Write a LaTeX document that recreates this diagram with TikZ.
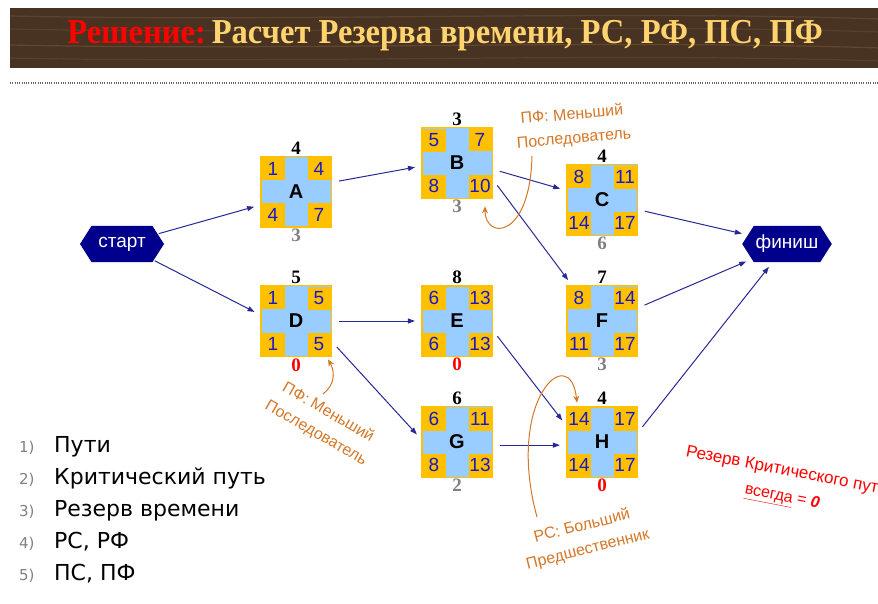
\documentclass[tikz,border=0pt]{standalone}
\usepackage{fontspec}
\setmainfont{Liberation Sans}
\newfontfamily\titlefont{Liberation Serif}
\newfontfamily\bannerfont{Liberation Serif}[FakeStretch=0.93]
\newfontfamily\listfont{DejaVu Sans}
\usetikzlibrary{positioning,matrix,shapes.symbols,arrows.meta,calc}

\definecolor{cellgold}{RGB}{255,192,0}
\definecolor{crossblue}{RGB}{153,204,255}
\definecolor{numblue}{RGB}{25,25,200}
\definecolor{linknavy}{RGB}{40,40,150}
\definecolor{hexnavy}{RGB}{0,0,140}
\definecolor{noteorange}{RGB}{212,120,40}
\definecolor{wood}{RGB}{72,50,34}
\definecolor{woodlight}{RGB}{150,120,85}
\definecolor{titlegold}{RGB}{255,212,110}

\begin{document}
\begin{tikzpicture}[x=1pt, y=-1pt, %
        task/.style={matrix of nodes, ampersand replacement=\&,
          row sep=0pt, column sep=0pt, fill=crossblue, draw=cellgold,
          line width=1.6pt, inner sep=0.8pt,
          nodes={minimum size=23pt, inner sep=0pt, text=numblue,
            font=\fontsize{19}{19}\selectfont}},
        cor/.style={fill=cellgold},
        ltr/.style={text=black, font=\fontsize{20}{20}\selectfont\bfseries},
        dur/.style={inner sep=1pt, font=\titlefont\bfseries\fontsize{19}{19}\selectfont},
        slk/.style={dur, text=gray},
        hex/.style={signal, signal to=east and west, signal pointer angle=115,
          fill=hexnavy, text=white, font=\fontsize{19}{19}\selectfont,
          minimum height=36pt, minimum width=84pt, inner sep=2pt},
        link/.style={draw=linknavy, line width=1pt, -{Triangle[length=7pt,width=5pt]},
          shorten >=6pt, shorten <=7pt},
        note/.style={text=noteorange, font=\fontsize{16}{24}\selectfont, align=center, inner sep=1pt},
        noteline/.style={draw=noteorange, line width=1pt, -{Stealth[length=7pt,width=6pt]}},
        grain/.style={draw=woodlight, line width=1.2pt},
        dotline/.style={draw=gray!80!black, line width=2pt, dash pattern=on 1pt off 1.3pt},
        listnum/.style={inner sep=0pt, text=gray, font=\listfont\fontsize{15}{15}\selectfont},
        listitem/.style={inner sep=0pt, font=\listfont\fontsize{22}{22}\selectfont}
        ]
        \useasboundingbox (0,0) rectangle (878,604);

        % banner
        \fill[wood] (10,8) rectangle (880,68);
        \foreach \yy/\op in {16/0.25, 29/0.2, 45/0.3, 58/0.2}
          \draw[grain, opacity=\op] (10,\yy) .. controls (300,\yy+6) and (600,\yy-6) .. (880,\yy+3);
        \node[anchor=base, text=titlegold, font=\bannerfont\bfseries\fontsize{35}{35}\selectfont] (title) at (445,44)
          {\textcolor{red}{Решение:}\,Расчет Резерва времени, РС, РФ, ПС, ПФ};
        \draw[dotline] (10,83) -- (878,83);

        % start / finish
        \node[hex] (start) at (122,244) {старт};
        \node[hex] (finish) at (787,244) {финиш};

        % tasks
        \matrix[task] (A) at (296,192) {
          |[cor]| 1 \& \& |[cor]| 4 \\
          \& |[ltr]| A \& \\
          |[cor]| 4 \& \& |[cor]| 7 \\
        };
        \matrix[task] (B) at (457,163) {
          |[cor]| 5 \& \& |[cor]| 7 \\
          \& |[ltr]| B \& \\
          |[cor]| 8 \& \& |[cor]| 10 \\
        };
        \matrix[task] (C) at (602,200) {
          |[cor]| 8 \& \& |[cor]| 11 \\
          \& |[ltr]| C \& \\
          |[cor]| 14 \& \& |[cor]| 17 \\
        };
        \matrix[task] (D) at (296,321) {
          |[cor]| 1 \& \& |[cor]| 5 \\
          \& |[ltr]| D \& \\
          |[cor]| 1 \& \& |[cor]| 5 \\
        };
        \matrix[task] (E) at (457,321) {
          |[cor]| 6 \& \& |[cor]| 13 \\
          \& |[ltr]| E \& \\
          |[cor]| 6 \& \& |[cor]| 13 \\
        };
        \matrix[task] (F) at (602,321) {
          |[cor]| 8 \& \& |[cor]| 14 \\
          \& |[ltr]| F \& \\
          |[cor]| 11 \& \& |[cor]| 17 \\
        };
        \matrix[task] (G) at (457,442) {
          |[cor]| 6 \& \& |[cor]| 11 \\
          \& |[ltr]| G \& \\
          |[cor]| 8 \& \& |[cor]| 13 \\
        };
        \matrix[task] (H) at (602,442) {
          |[cor]| 14 \& \& |[cor]| 17 \\
          \& |[ltr]| H \& \\
          |[cor]| 14 \& \& |[cor]| 17 \\
        };

        % durations and slack
        \node[dur, above=0pt of A] (Ad) {4};  \node[slk, below=0pt of A] (As) {3};
        \node[dur, above=0pt of B] (Bd) {3};  \node[slk, below=0pt of B] (Bs) {3};
        \node[dur, above=0pt of C] (Cd) {4};  \node[slk, below=0pt of C] (Cs) {6};
        \node[dur, above=0pt of D] (Dd) {5};  \node[slk, text=red, below=0pt of D] (Ds) {0};
        \node[dur, above=0pt of E] (Ed) {8};  \node[slk, text=red, below=0pt of E] (Es) {0};
        \node[dur, above=0pt of F] (Fd) {7};  \node[slk, below=0pt of F] (Fs) {3};
        \node[dur, above=0pt of G] (Gd) {6};  \node[slk, below=0pt of G] (Gs) {2};
        \node[dur, above=0pt of H] (Hd) {4};  \node[slk, text=red, below=0pt of H] (Hs) {0};

        % links
        \draw[link, shorten <=1pt] (start) -- (A.200);
        \draw[link, shorten <=1pt] (start) -- (D.170);
        \draw[link] (A.15) -- (B.185);
        \draw[link] (B.350) -- (C.165);
        \draw[link] (B.-25) -- (F.130);
        \draw[link] (C.345) -- (finish);
        \draw[link] (D) -- (E);
        \draw[link] (D.330) -- (G.175);
        \draw[link] (E.345) -- (H.155);
        \draw[link] (G.-5) -- (H.185);
        \draw[link] (F.20) -- (finish);
        \draw[link] (H.15) -- (finish);

        % notes
        \node[note, rotate=5] (n1) at (573,127) {ПФ: Меньший\\Последователь};
        \node[note, rotate=-30] (n2) at (322,423) {ПФ: Меньший\\Последователь};
        \node[note, rotate=14] (n3) at (585,538) {РС: Больший\\Предшественник};
        \coordinate (n1t) at (532,156);
        \coordinate (n2t) at (323,394);
        \coordinate (n3t) at (537,517);
        \draw[noteline] (n1t) .. controls (530,240) and (485,240) .. ($(B-3-3.south)+(5,8)$);
        \draw[noteline] (n2t) .. controls (338,382) and (333,368) .. ($(D-3-3.south)+(9,3)$);
        \draw[noteline] (n3t) .. controls (505,400) and (570,340) .. ($(H-1-1.north)+(-2,-4)$);

        \node[anchor=west, rotate=-11, text=red, inner sep=0pt, font=\fontsize{17}{17}\selectfont] (crit)
          at (686,452) {Резерв Критического пути};
        \node[rotate=-11, text=red, inner sep=0pt, font=\fontsize{16}{16}\selectfont] (always)
          at (782,498) {\underline{всегда} = \textbf{\textit{0}}};

        % list
        \foreach \txt [count=\i] in {Пути, Критический путь, Резерв времени, {РС, РФ}, {ПС, ПФ}} {
          \node[listnum, anchor=base west] (num\i) at (19,420+32*\i) {\i)};
          \node[listitem, anchor=base west] (item\i) at (54,420+32*\i) {\txt};
        }
      \end{tikzpicture}
\end{document}
